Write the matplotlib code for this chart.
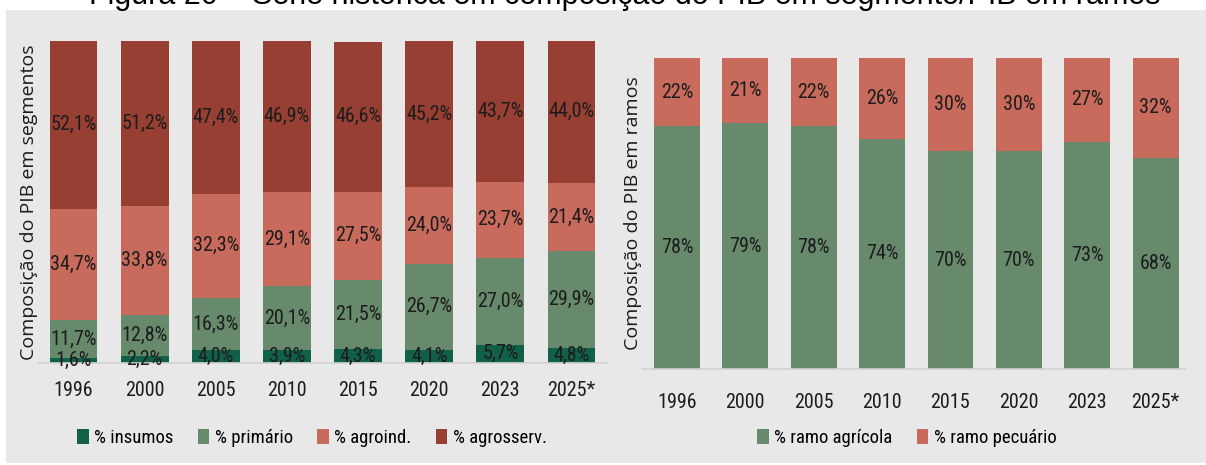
import matplotlib
matplotlib.use("Agg")
import matplotlib.pyplot as plt
from matplotlib.patches import Rectangle
import numpy as np

# data
years = ["1996", "2000", "2005", "2010", "2015", "2020", "2023", "2025*"]
insumos = [1.6, 2.2, 4.0, 3.9, 4.3, 4.1, 5.7, 4.8]
primario = [11.7, 12.8, 16.3, 20.1, 21.5, 26.7, 27.0, 29.9]
agroind = [34.7, 33.8, 32.3, 29.1, 27.5, 24.0, 23.7, 21.4]
agrosserv = [52.1, 51.2, 47.4, 46.9, 46.6, 45.2, 43.7, 44.0]

ramo_agricola = [78, 79, 78, 74, 70, 70, 73, 68]
ramo_pecuario = [22, 21, 22, 26, 30, 30, 27, 32]

seg_names = ["% insumos", "% primário", "% agroind.", "% agrosserv."]
ramo_names = ["% ramo agrícola", "% ramo pecuário"]

C_INS = "#11604a"
C_PRI = "#67896c"
C_AGI = "#c96b5c"
C_AGS = "#983f33"
BG = "#e8e8e8"
TXT = "#1c1c1c"

NARROW = ["DejaVu Sans Condensed", "Liberation Sans Narrow", "Roboto Condensed"]
W, H = 1206, 465

fig = plt.figure(figsize=(W / 100, H / 100), dpi=100)
fig.patch.set_facecolor("white")
fig.patches.append(Rectangle((6 / W, 1 - 463 / H), 1 - 6 / W, (463 - 10) / H,
                             transform=fig.transFigure, facecolor=BG,
                             edgecolor="none", zorder=-10))

# the reference shows the caption cut off at the top edge
fig.text(625 / W, 1 - 4 / H,
         "Figura 20 – Série histórica em composição do PIB em segmento/PIB em ramos",
         ha="center", va="baseline", fontsize=22, family="Liberation Sans",
         color="black")


def px_axes(x0, x1, ytop, ybot):
    return fig.add_axes([x0 / W, 1 - ybot / H, (x1 - x0) / W, (ybot - ytop) / H])


def style(ax):
    ax.set_facecolor("none")
    for s in ["top", "right", "left"]:
        ax.spines[s].set_visible(False)
    ax.spines["bottom"].set_color("#d2d2d2")
    ax.spines["bottom"].set_linewidth(1.2)
    ax.set_yticks([])
    ax.tick_params(axis="x", length=0, pad=13, labelsize=14.5, labelcolor=TXT)
    for lab in ax.get_xticklabels():
        lab.set_family(NARROW)


def fmt(v):
    return f"{v:.1f}".replace(".", ",") + "%"


# ── left: segments ──
ax1 = px_axes(38, 607, 41, 363)
x = np.arange(len(years))
bw = 0.67
bottom = np.zeros(len(years))
for vals, col, name in zip([insumos, primario, agroind, agrosserv],
                           [C_INS, C_PRI, C_AGI, C_AGS], seg_names):
    bars = ax1.bar(x, vals, bw, bottom=bottom, color=col, label=name)
    ax1.bar_label(bars, labels=[fmt(v) for v in vals], label_type="center",
                  fontsize=14.5, color=TXT, family=NARROW)
    bottom += np.array(vals)
ax1.set_xlim(-0.5, 7.5)
ax1.set_ylim(0, 100.1)
ax1.set_xticks(x)
ax1.set_xticklabels(years)
style(ax1)
ax1.set_ylabel("Composição do PIB em segmentos", fontsize=14,
               family="Open Sans", color=TXT, labelpad=0)
ax1.legend(loc="center", bbox_to_anchor=(312 / W, 1 - 438 / H),
           bbox_transform=fig.transFigure, ncol=4, frameon=False,
           handlelength=0.6, handleheight=0.9, handletextpad=0.3,
           columnspacing=1.3, prop={"family": NARROW, "size": 13.5})

# ── right: ramos ──
ax2 = px_axes(642, 1185, 58, 369)
x2 = np.arange(len(years))
bw2 = 0.67
b1 = ax2.bar(x2, ramo_agricola, bw2, color=C_PRI, label=ramo_names[0])
b2 = ax2.bar(x2, ramo_pecuario, bw2, bottom=ramo_agricola, color=C_AGI,
             label=ramo_names[1])
ax2.bar_label(b1, labels=[f"{v}%" for v in ramo_agricola], label_type="center",
              fontsize=14.5, color=TXT, family=NARROW)
ax2.bar_label(b2, labels=[f"{v}%" for v in ramo_pecuario], label_type="center",
              fontsize=14.5, color=TXT, family=NARROW)
ax2.set_xlim(-0.51, 7.43)
ax2.set_ylim(0, 100)
ax2.set_xticks(x2)
ax2.set_xticklabels(years)
style(ax2)
ax2.tick_params(axis="x", pad=17)
ax2.set_ylabel("Composição do PIB em ramos", fontsize=14,
               family="Open Sans", color=TXT, labelpad=0)
ax2.legend(loc="center", bbox_to_anchor=(907 / W, 1 - 438 / H),
           bbox_transform=fig.transFigure, ncol=2, frameon=False,
           handlelength=0.6, handleheight=0.9, handletextpad=0.3,
           columnspacing=1.3, prop={"family": NARROW, "size": 13.5})

fig.savefig("out.png", dpi=100)
